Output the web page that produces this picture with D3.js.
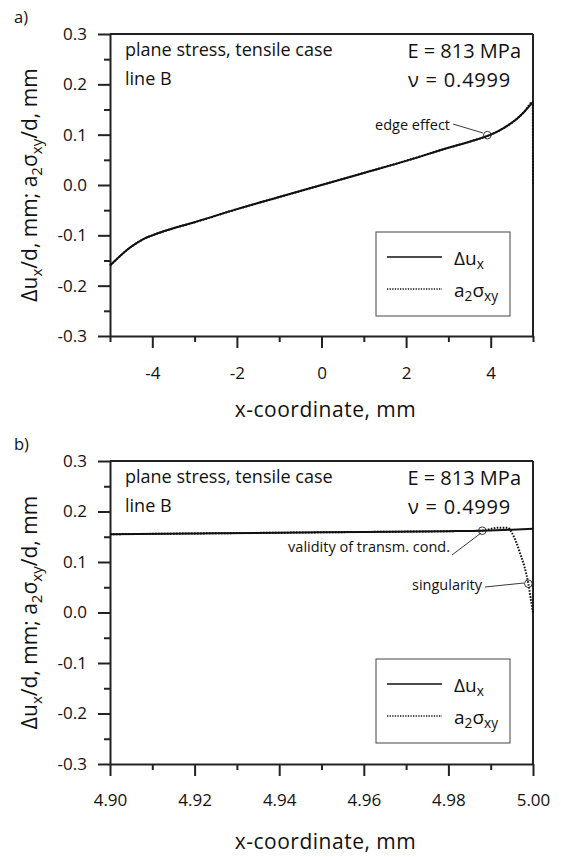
<!DOCTYPE html>
<html><head><meta charset="utf-8">
<script src="https://cdn.jsdelivr.net/npm/d3@7"></script>
<style>
html,body{margin:0;padding:0;background:#fff;}
svg{display:block;font-family:"Open Sans",sans-serif;}
</style></head>
<body><svg id="c" width="561" height="857"></svg>
<script>
// ---- data ----
const aX   = [-5,-4.9,-4.8,-4.6,-4.4,-4.2,-4,-3.5,-3,-2,-1,0,1,2,3,3.5,4,4.2,4.4,4.6,4.8,5];
const aDu  = [-0.160,-0.152,-0.144,-0.129,-0.117,-0.107,-0.100,-0.086,-0.074,-0.048,-0.024,0,0.024,0.048,0.074,0.086,0.100,0.108,0.118,0.130,0.146,0.165];
const aSigX= [-5,-4.9,-4.8,-4.6,-4.4,-4.2,-4,-3.5,-3,-2,-1,0,1,2,3,3.5,4,4.2,4.4,4.6,4.8,4.995,5];
const aSig = [-0.160,-0.152,-0.144,-0.129,-0.117,-0.107,-0.100,-0.086,-0.074,-0.048,-0.024,0,0.024,0.048,0.074,0.086,0.100,0.108,0.118,0.130,0.146,0.165,0.0];

const bX   = [4.90,4.92,4.94,4.96,4.98,4.988,4.995,5.00];
const bDu  = [0.155,0.1565,0.158,0.1595,0.161,0.162,0.164,0.166];
const bSigX= [4.90,4.92,4.94,4.96,4.98,4.988,4.990,4.992,4.994,4.995,4.996,4.997,4.998,4.9989,4.9996,5.0];
const bSig = [0.155,0.1565,0.158,0.1595,0.161,0.162,0.1655,0.168,0.168,0.158,0.14,0.116,0.09,0.057,0.02,0.0];

const yTicks  = [-0.3,-0.2,-0.1,0.0,0.1,0.2,0.3];
const yMinor  = [-0.25,-0.15,-0.05,0.05,0.15,0.25];
const aXTicks = [-4,-2,0,2,4];
const aXMinor = [-5,-3,-1,1,3,5];
const bXTicks = [4.90,4.92,4.94,4.96,4.98,5.00];
const bXMinor = [4.91,4.93,4.95,4.97,4.99];

const panelLabels = ["a)","b)"];
const infoLeft = ["plane stress, tensile case","line B"];
const infoE = "E = 813 MPa";
const infoNu = "\u03bd = 0.4999";
const annA = [{text:"edge effect", x:3.92, y:0.099}];
const annB = [{text:"validity of transm. cond.", x:4.988, y:0.162},{text:"singularity", x:4.9989, y:0.057}];

// ---- drawing ----
const svg = d3.select("#c");
const L = 110, R = 533;
const hy = f => d => f(d).replace("\u2212","-");

function sub(t, parts){
  let shifted = false;
  parts.forEach(p=>{
    if(p[1]){
      const ts = t.append("tspan").attr("font-size","0.72em").text(p[0]);
      if(!shifted){ ts.attr("dy","0.3em"); shifted = true; }
    } else {
      const ts = t.append("tspan").text(p[0]);
      if(shifted){ ts.attr("dy","-0.216em"); shifted = false; }
    }
  });
}

function panel(cfg){
  const g = svg.append("g");
  const x = d3.scaleLinear().domain(cfg.xdom).range([L,R]);
  const y = d3.scaleLinear().domain([-0.3,0.3]).range([cfg.bottom,cfg.top]);
  const T = cfg.top;

  g.append("text").attr("x",14).attr("y",T-11).attr("font-size",16.5).attr("fill","#111").text(cfg.label);

  // frame top/right
  g.append("line").attr("x1",L).attr("x2",R).attr("y1",T).attr("y2",T).attr("stroke","#222").attr("stroke-width",2);
  g.append("line").attr("x1",R).attr("x2",R).attr("y1",T).attr("y2",cfg.bottom).attr("stroke","#222").attr("stroke-width",2);

  // axes
  g.append("g").attr("transform",`translate(${L},0)`)
    .call(d3.axisLeft(y).tickValues(yTicks).tickFormat(hy(d3.format(".1f"))).tickSize(12).tickPadding(11).tickSizeOuter(0));
  g.append("g").attr("transform",`translate(${L},0)`)
    .call(d3.axisLeft(y).tickValues(yMinor).tickFormat("").tickSize(6).tickSizeOuter(0))
    .call(s=>{ s.select(".domain").remove(); s.selectAll(".tick text").remove(); });
  g.append("g").attr("transform",`translate(0,${cfg.bottom})`)
    .call(d3.axisBottom(x).tickValues(cfg.xt).tickFormat(hy(cfg.xfmt)).tickSize(12).tickPadding(cfg.xpad).tickSizeOuter(0));
  g.append("g").attr("transform",`translate(0,${cfg.bottom})`)
    .call(d3.axisBottom(x).tickValues(cfg.xm).tickFormat("").tickSize(6).tickSizeOuter(0))
    .call(s=>{ s.select(".domain").remove(); s.selectAll(".tick text").remove(); });
  g.selectAll(".domain").attr("stroke","#222").attr("stroke-width",2);
  g.selectAll(".tick line").attr("stroke","#222").attr("stroke-width",2);
  g.selectAll(".tick text").attr("font-size",17).attr("font-family","Open Sans").attr("fill","#111");

  // axis titles
  g.append("text").attr("x",(L+R)/2+4).attr("y",cfg.bottom+cfg.xlab).attr("text-anchor","middle")
    .attr("font-size",21).attr("letter-spacing",0.5).attr("fill","#111").text("x-coordinate, mm");
  const yt = g.append("text").attr("transform",`translate(37,${(T+cfg.bottom)/2}) rotate(-90)`).attr("text-anchor","middle").attr("font-size",21).attr("fill","#111");
  sub(yt,[["\u0394u",0],["x",1],["/d, mm; a",0],["2",1],["\u03c3",0],["xy",1],["/d, mm",0]]);

  // info text
  g.append("text").attr("x",125).attr("y",T+22).attr("font-size",18).attr("fill","#111").text(infoLeft[0]);
  g.append("text").attr("x",125).attr("y",T+51).attr("font-size",18).attr("fill","#111").text(infoLeft[1]);
  g.append("text").attr("x",521).attr("y",T+24).attr("text-anchor","end").attr("font-size",20).attr("fill","#111").text(infoE);
  g.append("text").attr("x",408).attr("y",T+53).attr("font-size",20).attr("letter-spacing",0.8).attr("fill","#111").text(infoNu);

  // curves
  const line = d3.line().x(d=>x(d[0])).y(d=>y(d[1])).curve(d3.curveMonotoneX);
  g.append("path").datum(cfg.sx.map((v,i)=>[v,cfg.sy[i]])).attr("d",line)
    .attr("fill","none").attr("stroke","#111").attr("stroke-width",2).attr("stroke-dasharray","1.6,1.4");
  g.append("path").datum(cfg.dx.map((v,i)=>[v,cfg.dy[i]])).attr("d",line)
    .attr("fill","none").attr("stroke","#111").attr("stroke-width",2);

  // annotations
  cfg.ann.forEach(a=>{
    const cx=x(a.x), cy=y(a.y);
    g.append("circle").attr("cx",cx).attr("cy",cy).attr("r",3.8).attr("fill","none").attr("stroke","#222").attr("stroke-width",0.9);
    g.append("line").attr("x1",a.lx1).attr("y1",T+a.ly1).attr("x2",a.lx2).attr("y2",T+a.ly2).attr("stroke","#222").attr("stroke-width",0.9);
    g.append("text").attr("x",a.tx).attr("y",T+a.ty).attr("text-anchor","end").attr("font-size",14.5).attr("fill","#111").text(a.text);
  });

  // legend
  const lg = g.append("g");
  lg.append("rect").attr("x",376).attr("y",T+198).attr("width",134).attr("height",84)
    .attr("fill","#fff").attr("stroke","#444").attr("stroke-width",1);
  lg.append("line").attr("x1",387).attr("x2",442).attr("y1",T+223).attr("y2",T+223).attr("stroke","#111").attr("stroke-width",1.6);
  lg.append("line").attr("x1",387).attr("x2",442).attr("y1",T+255).attr("y2",T+255).attr("stroke","#111").attr("stroke-width",1.6).attr("stroke-dasharray","1.3,1.3");
  const l1 = lg.append("text").attr("x",454).attr("y",T+231).attr("font-size",19).attr("fill","#111");
  sub(l1,[["\u0394u",0],["x",1]]);
  const l2 = lg.append("text").attr("x",454).attr("y",T+263).attr("font-size",19).attr("fill","#111");
  sub(l2,[["a",0],["2",1],["\u03c3",0],["xy",1]]);
}

panel({label:panelLabels[0], top:34, bottom:336, xdom:[-5,5], xt:aXTicks, xm:aXMinor, xfmt:d3.format("d"), xpad:19, xlab:81,
  dx:aX, dy:aDu, sx:aSigX, sy:aSig,
  ann:annA.map(a=>Object.assign({},a,{tx:450,ty:96,lx1:453,ly1:90,lx2:483,ly2:99}))});
panel({label:panelLabels[1], top:461, bottom:764, xdom:[4.90,5.00], xt:bXTicks, xm:bXMinor, xfmt:d3.format(".2f"), xpad:18, xlab:85,
  dx:bX, dy:bDu, sx:bSigX, sy:bSig,
  ann:[Object.assign({},annB[0],{tx:450,ty:91,lx1:452,ly1:94,lx2:481,ly2:72}),
       Object.assign({},annB[1],{tx:482,ty:129,lx1:485,ly1:126,lx2:524,ly2:122})]});
</script></body></html>
